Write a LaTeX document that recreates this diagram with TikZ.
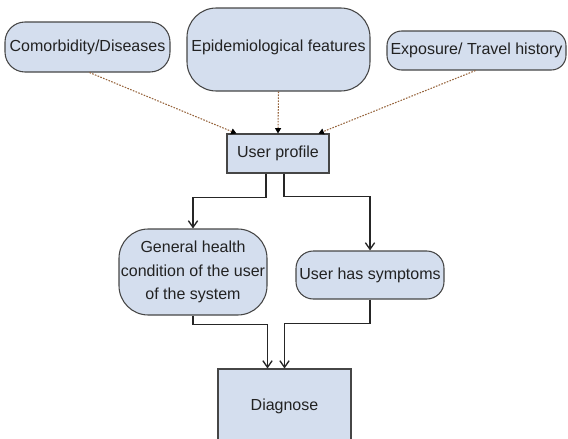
\documentclass[tikz,border=0pt]{standalone}
\usepackage{fontspec}
\setmainfont{Liberation Sans}
\usetikzlibrary{arrows.meta,fit,calc}
\definecolor{boxfill}{RGB}{212,222,238}
\definecolor{boxline}{RGB}{70,70,70}
\definecolor{dotline}{RGB}{150,100,60}
\definecolor{txt}{RGB}{34,34,34}
\tikzset{
  box/.style={draw=boxline, fill=boxfill, line width=0.8pt, inner sep=0pt,
    font=\fontsize{12}{14.5}\selectfont, text=txt, align=center},
  pill/.style={box, rounded corners=#1},
  lbl/.style={font=\fontsize{12}{14.5}\selectfont, text=txt},
  dotarrow/.style={draw=dotline, line width=0.8pt, dash pattern=on 1.2pt off 1pt,
    -{Triangle[length=4pt,width=4.5pt,color=black]}},
  flow/.style={draw=black!85, line width=0.8pt,
    -{Straight Barb[length=5pt,width=7pt,line width=1pt]}}
}
\begin{document}
\begin{tikzpicture}[x=0.75pt,y=-0.75pt]
\useasboundingbox (0,0) rectangle (568,439);
\clip (0,0) rectangle (568,439);
\node[pill=15pt, fit={(5,22)(170,72)}] (com) {};
\node[lbl] at (com.center) {Comorbidity/Diseases};
\node[pill=22pt, fit={(187,8)(370,91)}] (epi) {};
\node[lbl] at ($(epi.center)+(0,-2)$) {Epidemiological features};
\node[pill=11pt, fit={(387,31)(566,70)}] (exp) {};
\node[lbl] at (exp.center) {Exposure/ Travel history};
\node[box, fit={(227,134)(329,173)}] (up) {};
\node[lbl] at (up.center) {User profile};
\node[pill=22pt, fit={(119,229)(267,315)}] (gen) {};
\node[lbl, font=\fontsize{12}{17.5}\selectfont, align=center] at (gen.center) {General health\\condition of the user\\of the system};
\node[pill=13pt, fit={(296,251)(444,299)}] (sym) {};
\node[lbl] at (sym.center) {User has symptoms};
\node[box, fit={(218,369)(351,445)}] (dia) {};
\node[lbl] at ($(dia.center)+(0,-1)$) {Diagnose};

\draw[dotarrow] ($(com.south)+(2,0)$) -- ($(up.north west)+(10,0)$);
\draw[dotarrow] (epi.south) -- (up.north);
\draw[dotarrow] ($(exp.south)+(-1,0)$) -- ($(up.north east)+(-11,0)$);

\draw[flow] ($(up.south)+(-12,0)$) -- ++(0,24) -| (gen.north);
\draw[flow] ($(up.south)+(6,0)$) -- ++(0,23) -| (sym.north);
\draw[flow] (gen.south) -- ++(0,9) -| ($(dia.north)+(-17,0)$);
\draw[flow] (sym.south) -- ++(0,24) -| ($(dia.north)+(0,0)$);
\end{tikzpicture}
\end{document}
